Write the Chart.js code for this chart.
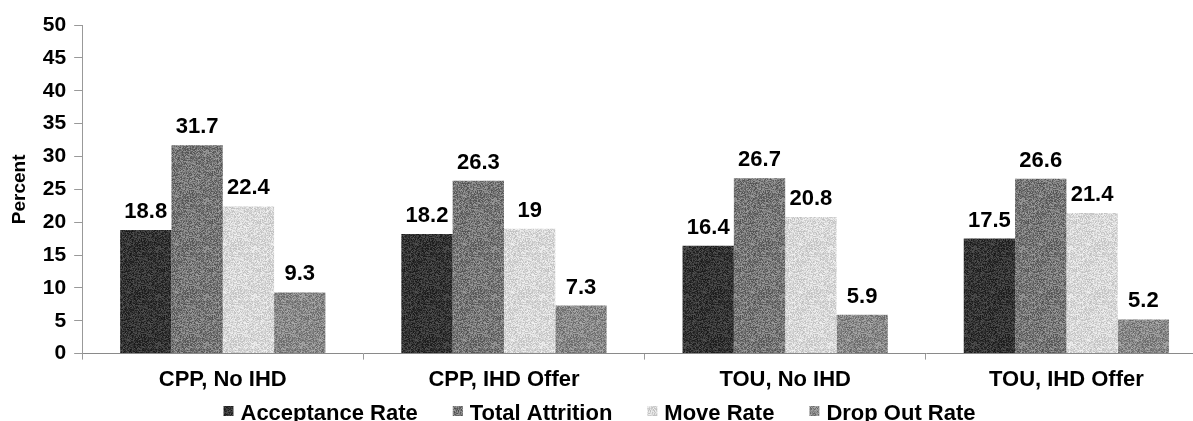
<!DOCTYPE html>
<html>
<head>
<meta charset="utf-8">
<script src="https://cdn.jsdelivr.net/npm/chart.js@4"></script>
<style>
    html, body { margin: 0; padding: 0; background: #fff; overflow: hidden; }
    #wrap { width: 1215px; height: 421px; }
</style>
</head>
<body>
<div id="wrap"><canvas id="chart" width="1215" height="421"></canvas></div>
<script>
// Chart data
const categories = ['CPP, No IHD', 'CPP, IHD Offer', 'TOU, No IHD', 'TOU, IHD Offer'];
const seriesNames = ['Acceptance Rate', 'Total Attrition', 'Move Rate', 'Drop Out Rate'];
const acceptanceRate = [18.8, 18.2, 16.4, 17.5];
const totalAttrition = [31.7, 26.3, 26.7, 26.6];
const moveRate = [22.4, 19, 20.8, 21.4];
const dropOutRate = [9.3, 7.3, 5.9, 5.2];
const yTicks = [0, 5, 10, 15, 20, 25, 30, 35, 40, 45, 50];

const FONT = '"Liberation Sans", Arial, sans-serif';

// speckled grey fill, like the scanned original (deterministic hash, styling only)
function speckle(base, spread) {
    const c = document.createElement('canvas');
    c.width = c.height = 48;
    const g = c.getContext('2d');
    const img = g.createImageData(48, 48);
    for (let i = 0; i < 48 * 48; i++) {
        let h = (i * 2654435761) >>> 0;
        h = ((h ^ (h >>> 13)) * 1274126177) >>> 0;
        h = (h ^ (h >>> 16)) >>> 0;
        const v = Math.max(0, Math.min(255, base + ((h & 255) / 255 - 0.5) * 2 * spread));
        img.data[i * 4] = img.data[i * 4 + 1] = img.data[i * 4 + 2] = v;
        img.data[i * 4 + 3] = 255;
    }
    g.putImageData(img, 0, 0);
    return g.createPattern(c, 'repeat');
}

const fills = [speckle(52, 30), speckle(118, 40), speckle(216, 26), speckle(136, 36)];

// draws the value above each bar
const valueLabels = {
    id: 'valueLabels',
    afterDatasetsDraw(chart) {
        const ctx = chart.ctx;
        ctx.save();
        ctx.font = 'bold 22px ' + FONT;
        ctx.fillStyle = '#000';
        ctx.textAlign = 'center';
        ctx.textBaseline = 'alphabetic';
        chart.data.datasets.forEach((ds, i) => {
            chart.getDatasetMeta(i).data.forEach((bar, j) => {
                ctx.fillText(String(ds.data[j]), bar.x, bar.y - 12);
            });
        });
        ctx.restore();
    }
};

// bottom legend with wider gaps than the built-in one allows
const bottomLegend = {
    id: 'bottomLegend',
    afterDraw(chart) {
        const ctx = chart.ctx;
        ctx.save();
        ctx.font = 'bold 22px ' + FONT;
        const box = 10, gapText = 7, gapItem = 35;
        const items = chart.data.datasets.map((ds, i) => ({
            text: ds.label, fill: ds.backgroundColor, w: box + gapText + ctx.measureText(ds.label).width
        }));
        const total = items.reduce((s, it) => s + it.w, 0) + gapItem * (items.length - 1);
        let x = chart.width / 2 - 8 - total / 2;
        const base = 420;
        items.forEach(it => {
            ctx.fillStyle = it.fill;
            ctx.fillRect(x, base - 14, box, box);
            ctx.fillStyle = '#000';
            ctx.textAlign = 'left';
            ctx.fillText(it.text, x + box + gapText, base);
            x += it.w + gapItem;
        });
        ctx.restore();
    }
};

const seriesData = [acceptanceRate, totalAttrition, moveRate, dropOutRate];

const ctx = document.getElementById('chart').getContext('2d');
new Chart(ctx, {
    type: 'bar',
    data: {
        labels: categories,
        datasets: seriesData.map((d, i) => ({
            label: seriesNames[i],
            data: d,
            backgroundColor: fills[i],
            borderWidth: 0,
            categoryPercentage: 0.73,
            barPercentage: 1.0
        }))
    },
    options: {
        responsive: false,
        animation: false,
        layout: { padding: { top: 25, right: 8, left: 8, bottom: 21 } },
        plugins: {
            legend: { display: false },
            tooltip: { enabled: false }
        },
        scales: {
            x: {
                grid: {
                    drawOnChartArea: false,
                    color: '#999',
                    tickLength: 6
                },
                border: { color: '#8a8a8a', dash: [3, 1] },
                ticks: {
                    font: { family: FONT, size: 22, weight: 'bold' },
                    color: '#000',
                    padding: 7
                }
            },
            y: {
                min: 0,
                max: 50,
                afterBuildTicks(axis) {
                    axis.ticks = yTicks.map(v => ({ value: v }));
                },
                grid: {
                    drawOnChartArea: false,
                    color: '#999',
                    tickLength: 8
                },
                border: { color: '#999' },
                ticks: {
                    font: { family: FONT, size: 21, weight: 'bold' },
                    color: '#000',
                    padding: 8
                },
                title: {
                    display: true,
                    text: 'Percent',
                    font: { family: FONT, size: 19, weight: 'bold' },
                    color: '#000',
                    padding: { top: 0, bottom: 4 }
                }
            }
        }
    },
    plugins: [valueLabels, bottomLegend]
});
</script>
</body>
</html>
